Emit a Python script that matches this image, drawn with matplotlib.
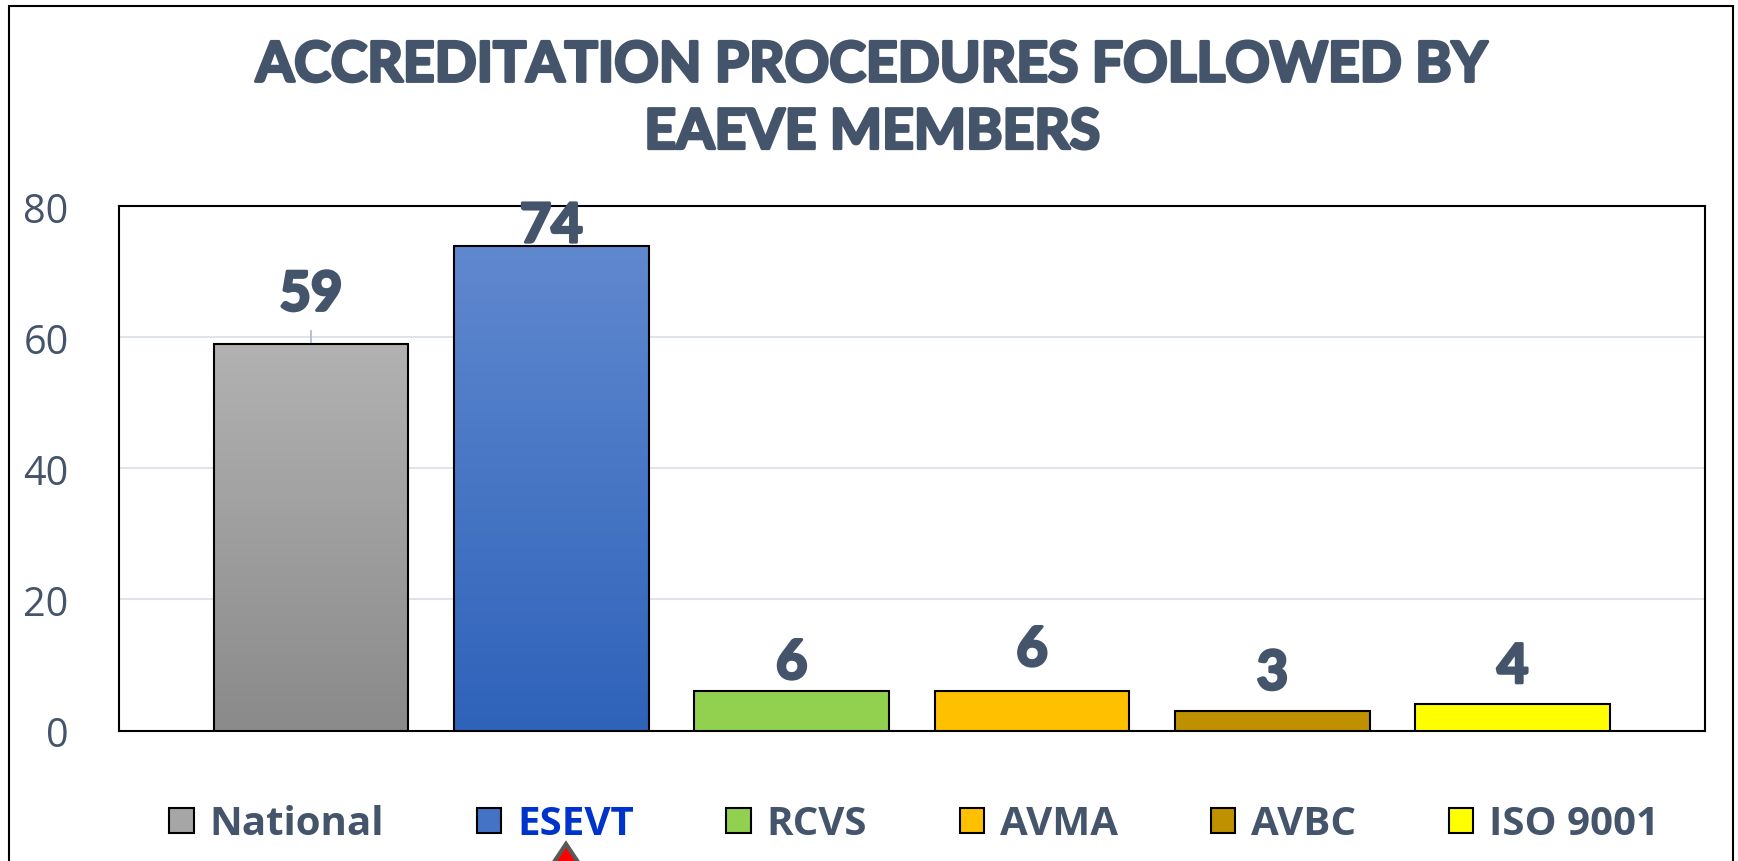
"""
Accreditation procedures followed by EAEVE members - bar chart recreation.
"""

import numpy as np
import matplotlib.pyplot as plt
import matplotlib.patheffects as pe
from matplotlib.patches import Patch, Rectangle, Polygon
from matplotlib.colors import LinearSegmentedColormap

# ── Data ─────────────────────────────────────────────────────────────────────
categories = ["National", "ESEVT", "RCVS", "AVMA", "AVBC", "ISO 9001"]
counts = [59, 74, 6, 6, 3, 4]
y_ticks = [0, 20, 40, 60, 80]

# ── Styling ──────────────────────────────────────────────────────────────────
TEXT = "#44546A"
bar_top = ["#B2B2B2", "#6088CF", "#92D050", "#FFC000", "#BF9000", "#FFFF00"]
bar_bottom = ["#8A8A8A", "#2E63BA", "#92D050", "#FFC000", "#BF9000", "#FFFF00"]
label_offset_px = [49, 19, 28, 41, 37, 37]   # Excel put labels at uneven heights
legend_colors = ["#A6A6A6", "#4472C4", "#92D050", "#FFC000", "#BF9000", "#FFFF00"]
legend_text_colors = [TEXT, "#0033CC", TEXT, TEXT, TEXT, TEXT]
heavy = [pe.withStroke(linewidth=2.2, foreground=TEXT)]   # fake "Arial Black"

W, H, DPI = 1738, 862, 100
fig = plt.figure(figsize=(W / DPI, H / DPI), dpi=DPI)
ax = fig.add_axes([118.6 / W, 1 - 731.5 / H, (1705 - 118.6) / W, (731.5 - 207.3) / H])

x = np.arange(len(categories))
bars = ax.bar(x, counts, width=0.81, color=bar_top, edgecolor="black", linewidth=1.5, zorder=3)

# vertical gradient fill clipped to each bar
for b, c_top, c_bot in zip(bars, bar_top, bar_bottom):
    if c_top == c_bot:
        continue
    cmap = LinearSegmentedColormap.from_list("g", [c_bot, c_top])
    x0, y0 = b.get_x(), b.get_y()
    grad = np.linspace(0, 1, 256).reshape(-1, 1)
    im = ax.imshow(grad, cmap=cmap, origin="lower", aspect="auto",
                   extent=[x0, x0 + b.get_width(), y0, y0 + b.get_height()], zorder=3.5)
    im.set_clip_path(b)
    b.set_facecolor("none")
    b.set_zorder(4)

ax.set_xlim(-0.8, len(categories) - 1 + 0.8)
ax.set_ylim(0, 80)
ax.set_yticks(y_ticks)
ax.set_xticks([])
ax.tick_params(axis="y", length=0, pad=36, labelsize=28.5, labelcolor=TEXT)
for t in ax.get_yticklabels():
    t.set_fontfamily("Open Sans")
ax.grid(axis="y", color="#DCE1E8", lw=1.3, zorder=0)
for s in ax.spines.values():
    s.set_color("black")
    s.set_linewidth(1.5)

# value labels
for xi, v, off in zip(x, counts, label_offset_px):
    ax.annotate(str(v), (xi, v), xytext=(0, off * 72 / DPI), textcoords="offset points",
                ha="center", va="center", fontsize=39, fontweight="bold",
                family="Lato", color=TEXT, zorder=6, annotation_clip=False,
                path_effects=heavy)
# leader line on the moved "59" label
ax.plot([x[0], x[0]], [counts[0], counts[0] + 2], color="#A9B7C9", lw=1.2, zorder=2)

# title
fig.text(0.502, 1 - 100 / H, "ACCREDITATION PROCEDURES FOLLOWED BY\nEAEVE MEMBERS",
         ha="center", va="center", fontsize=39.8, fontweight="bold", family="Lato",
         color=TEXT, linespacing=1.42, path_effects=heavy)

# legend
handles = [Patch(facecolor=c, edgecolor="black", linewidth=1.5) for c in legend_colors]
leg = fig.legend(handles, categories, loc="center", bbox_to_anchor=(0.526, 1 - 825 / H),
                 ncol=6, frameon=False, handlelength=0.6, handleheight=0.6,
                 handletextpad=0.4, columnspacing=2.3,
                 prop={"family": "Open Sans", "weight": "bold", "size": 29})
for t, c in zip(leg.get_texts(), legend_text_colors):
    t.set_color(c)

# outer chart border and the red marker under ESEVT
fig.patches.append(Rectangle((9 / W, -0.02), (1733 - 9) / W, 1.02 - 7 / H,
                             transform=fig.transFigure, fill=False, edgecolor="black", lw=1.5))
fig.patches.append(Polygon([(566 / W, 1 - 845 / H), (526 / W, -0.05), (606 / W, -0.05)],
                           closed=True, transform=fig.transFigure, facecolor="#FF0000",
                           edgecolor="#595959", lw=3))

fig.savefig("out.png", dpi=DPI)
